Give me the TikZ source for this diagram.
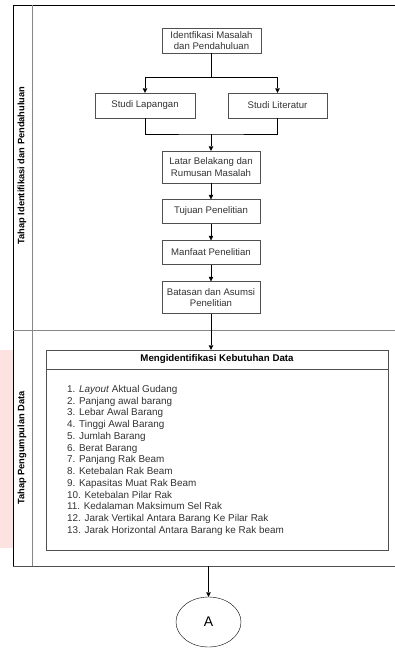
\documentclass[tikz,border=0pt]{standalone}
\usepackage{fontspec}
\setmainfont{Liberation Sans}
\usepackage{tikz}
\usetikzlibrary{arrows.meta}
\usetikzlibrary{shapes.geometric}

\definecolor{boxgray}{RGB}{80,80,80}
\definecolor{txtgray}{RGB}{51,51,51}
\definecolor{lanegray}{RGB}{135,135,135}
\definecolor{pinkbg}{RGB}{253,226,226}

\begin{document}
\begin{tikzpicture}[x=1pt, y=-1pt,
    proc/.style={draw=boxgray, fill=white, text=txtgray, align=center, inner sep=0pt,
        font=\fontsize{9.6}{11.7}\selectfont, minimum width=98pt, minimum height=24pt},
    lanelabel/.style={rotate=90, font=\fontsize{9.3}{11}\selectfont\bfseries},
    flow/.style={draw=black, -{Triangle[length=4.5pt, width=4.5pt]}}]
    \useasboundingbox (0,0) rectangle (395,648);
    \clip (0,0) rectangle (395,648);
    % strip on the left margin
    \fill [pinkbg] (0,350) rectangle (13,548);
    % lanes
    \draw [black, line width=0.8pt] (400,5) -- (13,5) -- (13,566);
    \draw [boxgray, line width=0.8pt] (13,566) -- (400,566);
    \draw [lanegray, line width=0.8pt] (32,5) -- (32,566);
    \draw [lanegray, line width=0.8pt] (13,330) -- (400,330);
    \node [lanelabel] (lane1) at (22,165.5) {Tahap Identifikasi dan Pendahuluan};
    \node [lanelabel] (lane2) at (22,448) {Tahap Pengumpulan Data};
    % tahap 1
    \node [proc, minimum width=99pt, minimum height=25pt] (identifikasi) at (211.5,40.5) {Identfikasi Masalah\\dan Pendahuluan};
    \node [proc, minimum width=100pt, minimum height=25pt] (lapangan) at (145,105.5) {Studi Lapangan};
    \node [proc, minimum width=99pt, minimum height=25pt] (literatur) at (277.5,105.5) {Studi Literatur};
    \node [proc, minimum height=32pt] (latar) at (211,167) {Latar Belakang dan\\Rumusan Masalah};
    \node [proc] (tujuan) at (211,211.5) {Tujuan Penelitian};
    \node [proc] (manfaat) at (211,252.5) {Manfaat Penelitian};
    \node [proc, minimum height=32pt] (batasan) at (211,297.5) {Batasan dan Asumsi\\Penelitian};
    \coordinate (gabung) at (211,134);
    \draw [flow] (identifikasi.south) -- ++(0,24) -| (lapangan.north);
    \draw [flow] (identifikasi.south) -- ++(0,24) -| (literatur.north);
    \draw (lapangan.south) |- (gabung) -| (literatur.south);
    \draw [flow] (gabung) -- (latar);
    \draw [flow] (latar) -- (tujuan);
    \draw [flow] (tujuan) -- (manfaat);
    \draw [flow] (manfaat) -- (batasan);
    % tahap 2
    \node [proc, minimum width=342pt, minimum height=200pt] (kebutuhan) at (217,450) {};
    \draw [flow] (batasan.south) -- (batasan.south |- kebutuhan.north);
    \node [text=black, font=\fontsize{9.7}{11}\selectfont\bfseries] (judul) at (217,359.5) {Mengidentifikasi Kebutuhan Data};
    \draw [boxgray] (46,369) -- (388,369);
    \node [anchor=north west, inner sep=0pt, align=left, text=txtgray,
        font=\fontsize{9.9}{11.75}\selectfont] (daftar) at (67,385) {%
        1. \textit{Layout} Aktual Gudang\\
        2. Panjang awal barang\\
        3. Lebar Awal Barang\\
        4. Tinggi Awal Barang\\
        5. Jumlah Barang\\
        6. Berat Barang\\
        7. Panjang Rak Beam\\
        8. Ketebalan Rak Beam\\
        9. Kapasitas Muat Rak Beam\\
        10. Ketebalan Pilar Rak\\
        11. Kedalaman Maksimum Sel Rak\\
        12. Jarak Vertikal Antara Barang Ke Pilar Rak\\
        13. Jarak Horizontal Antara Barang ke Rak beam};
    % penghubung
    \coordinate (keluar) at (208.5,566);
    \node [draw=black, ellipse, minimum width=65pt, minimum height=50pt, inner sep=0pt,
        font=\fontsize{14}{16}\selectfont] (konektor) at (208.5,622) {A};
    \draw [flow] (keluar) -- (konektor);
\end{tikzpicture}
\end{document}
